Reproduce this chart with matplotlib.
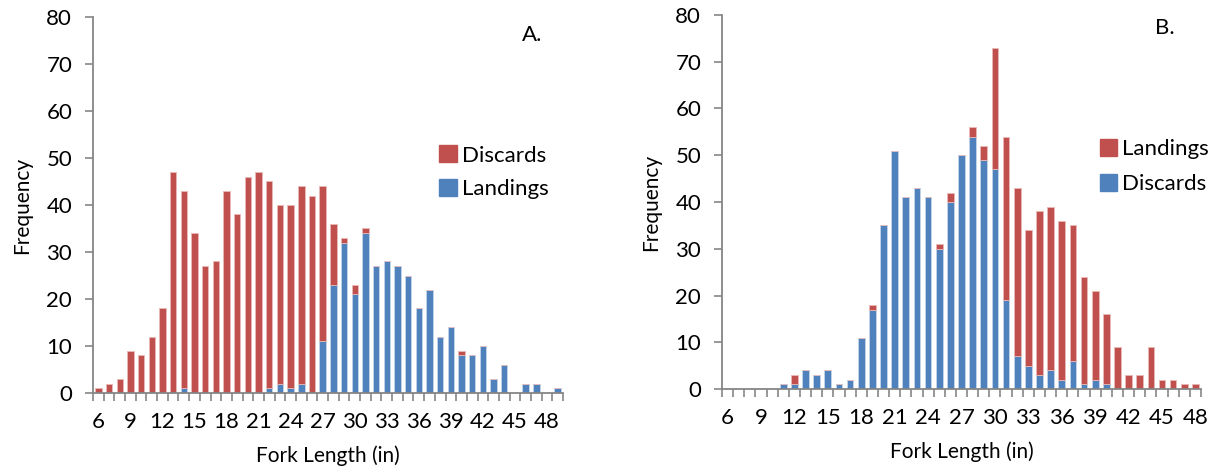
import numpy as np
import matplotlib.pyplot as plt
from matplotlib.patches import Patch

plt.rcParams['font.family'] = ['Lato', 'DejaVu Sans']

RED = "#C0504D"
BLUE = "#4F81BD"
GRAY = "#868686"

# panel A: fork length 6..49
len_a = list(range(6, 50))
landings_a = [0, 0, 0, 0, 0, 0, 0, 0, 1, 0, 0, 0, 0, 0, 0, 0, 1, 2, 1, 2, 0, 11,
              23, 32, 21, 34, 27, 28, 27, 25, 18, 22, 12, 14, 8, 8, 10, 3, 6, 0, 2, 2, 0, 1]
total_a = [1, 2, 3, 9, 8, 12, 18, 47, 43, 34, 27, 28, 43, 38, 46, 47, 45, 40, 40, 44, 42, 44,
           36, 33, 23, 35, 27, 28, 27, 25, 18, 22, 12, 14, 9, 8, 10, 3, 6, 0, 2, 2, 0, 1]
discards_a = [t - l for t, l in zip(total_a, landings_a)]

# panel B: fork length 6..48
len_b = list(range(6, 49))
discards_b = [0, 0, 0, 0, 0, 1, 1, 4, 3, 4, 1, 2, 11, 17, 35, 51, 41, 43, 41, 30, 40,
              50, 54, 49, 47, 19, 7, 5, 3, 4, 2, 6, 1, 2, 1, 0, 0, 0, 0, 0, 0, 0, 0]
total_b = [0, 0, 0, 0, 0, 1, 3, 4, 3, 4, 1, 2, 11, 18, 35, 51, 41, 43, 41, 31, 42,
           50, 56, 52, 73, 54, 43, 34, 38, 39, 36, 35, 24, 21, 16, 9, 3, 3, 9, 2, 2, 1, 1]
landings_b = [t - d for t, d in zip(total_b, discards_b)]

W, H = 1213, 473
fig = plt.figure(figsize=(W / 100, H / 100), dpi=100)
FS = 16


def make_axes(l, r, t, b):
    return fig.add_axes([l / W, 1 - b / H, (r - l) / W, (b - t) / H])


def style(ax, cats):
    n = len(cats)
    ax.set_xlim(-0.5, n - 0.5)
    ax.set_ylim(0, 80)
    ax.set_yticks(range(0, 81, 10))
    ax.set_xticks(range(0, n, 3))
    ax.set_xticklabels([str(c) for c in cats[::3]])
    ax.set_xticks(np.arange(-0.5, n, 1), minor=True)
    ax.tick_params(axis='x', which='major', length=0, pad=14, labelsize=FS)
    ax.tick_params(axis='x', which='minor', length=6, color=GRAY, width=1.2)
    ax.tick_params(axis='y', length=6, color=GRAY, width=1.2, pad=9, labelsize=FS)
    for s in ['top', 'right']:
        ax.spines[s].set_visible(False)
    for s in ['left', 'bottom']:
        ax.spines[s].set_color(GRAY)
        ax.spines[s].set_linewidth(1.3)
    ax.set_xlabel("Fork Length (in)", fontsize=FS - 1, labelpad=9)
    ax.set_ylabel("Frequency", fontsize=FS - 1, labelpad=10)


bw = 0.6

ax1 = make_axes(93, 563, 17, 393)
x1 = np.arange(len(len_a))
ax1.bar(x1, landings_a, bw, color=BLUE, edgecolor="#C5D5EA", linewidth=0.6)
ax1.bar(x1, discards_a, bw, bottom=landings_a, color=RED, edgecolor="#E8B8B7", linewidth=0.6)
style(ax1, len_a)
ax1.text(0.934, 0.952, "A.", transform=ax1.transAxes, fontsize=FS, ha='center', va='center')
ax1.legend(handles=[Patch(color=RED, label="Discards"), Patch(color=BLUE, label="Landings")],
           loc='upper left', bbox_to_anchor=(0.704, 0.70), frameon=False, fontsize=FS,
           handlelength=0.8, handleheight=0.8, handletextpad=0.2, labelspacing=0.6,
           borderpad=0.2)

ax2 = make_axes(722, 1201, 15, 389)
x2 = np.arange(len(len_b))
ax2.bar(x2, discards_b, bw, color=BLUE, edgecolor="#C5D5EA", linewidth=0.6)
ax2.bar(x2, landings_b, bw, bottom=discards_b, color=RED, edgecolor="#E8B8B7", linewidth=0.6)
style(ax2, len_b)
ax2.text(0.925, 0.965, "B.", transform=ax2.transAxes, fontsize=FS, ha='center', va='center')
ax2.legend(handles=[Patch(color=RED, label="Landings"), Patch(color=BLUE, label="Discards")],
           loc='upper left', bbox_to_anchor=(0.756, 0.71), frameon=False, fontsize=FS,
           handlelength=0.8, handleheight=0.8, handletextpad=0.2, labelspacing=0.65,
           borderpad=0.2)

fig.savefig("out.png", dpi=100)
